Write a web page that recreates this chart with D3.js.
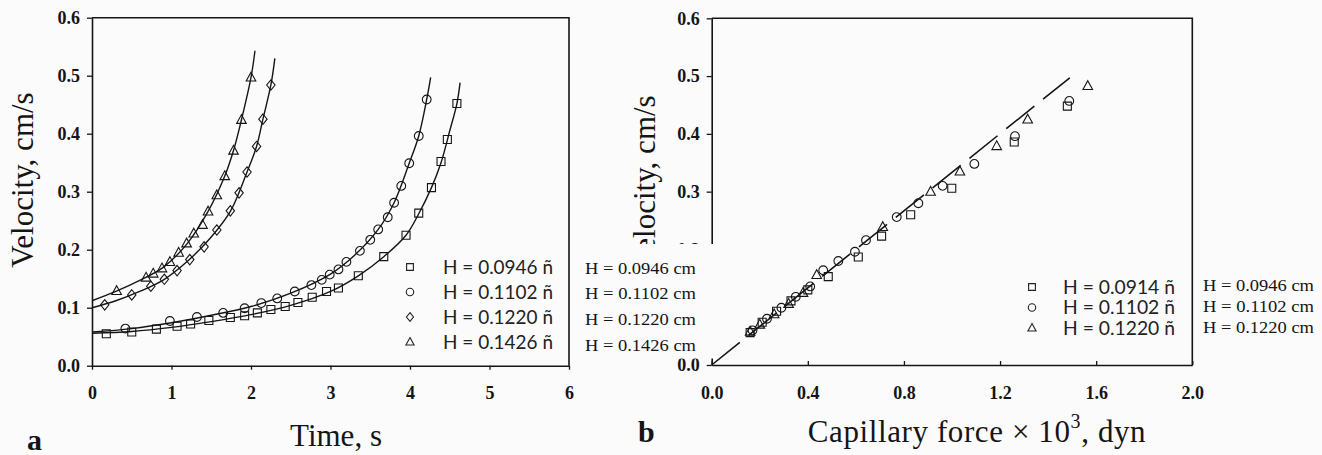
<!DOCTYPE html>
<html>
<head>
<meta charset="utf-8">
<script src="https://cdn.jsdelivr.net/npm/d3@7"></script>
<style>
    body { margin: 0; background: #fbfbfb; }
    svg { display: block; }
</style>
</head>
<body>
<svg id="chart" width="1322" height="455"></svg>
<script>
// ---- panel a : velocity against time ----
const timeTicks = [0, 1, 2, 3, 4, 5, 6];
const velocityTicks = [0, 0.1, 0.2, 0.3, 0.4, 0.5, 0.6];
const legendA = ['H = 0.0946 ñ', 'H = 0.1102 ñ', 'H = 0.1220 ñ', 'H = 0.1426 ñ'];
const legendACm = ['H = 0.0946 cm', 'H = 0.1102 cm', 'H = 0.1220 cm', 'H = 0.1426 cm'];

const pointsA0946 = [[0.18,0.055],[0.50,0.058],[0.81,0.063],[1.07,0.068],[1.24,0.072],[1.47,0.078],
    [1.74,0.083],[1.92,0.086],[2.08,0.091],[2.25,0.097],[2.43,0.102],[2.59,0.109],[2.77,0.118],
    [2.95,0.128],[3.10,0.134],[3.35,0.155],[3.67,0.188],[3.95,0.225],[4.11,0.263],[4.27,0.307],
    [4.39,0.352],[4.47,0.390],[4.59,0.452]];
const pointsA1102 = [[0.42,0.064],[0.98,0.077],[1.32,0.084],[1.65,0.091],[1.92,0.099],[2.13,0.108],
    [2.33,0.116],[2.55,0.128],[2.76,0.139],[2.89,0.148],[2.99,0.157],[3.10,0.166],[3.20,0.179],
    [3.37,0.198],[3.50,0.217],[3.60,0.235],[3.72,0.256],[3.80,0.281],[3.89,0.310],[3.99,0.349],
    [4.11,0.396],[4.21,0.459]];
const pointsA1220 = [[0.16,0.105],[0.50,0.122],[0.74,0.137],[0.91,0.149],[1.07,0.164],[1.23,0.183],
    [1.41,0.205],[1.57,0.234],[1.74,0.267],[1.85,0.298],[1.95,0.334],[2.07,0.378],[2.15,0.425],
    [2.25,0.484]];
const pointsA1426 = [[0.31,0.129],[0.68,0.152],[0.77,0.159],[0.88,0.168],[0.98,0.179],[1.09,0.195],
    [1.19,0.211],[1.28,0.228],[1.39,0.243],[1.46,0.266],[1.57,0.294],[1.67,0.327],[1.78,0.371],
    [1.88,0.424],[2.00,0.497]];

// fitted curves
const fitA0946 = [[0,0.056],[0.5,0.059],[1,0.066],[1.5,0.076],[2,0.088],[2.5,0.104],[3,0.128],
    [3.35,0.155],[3.67,0.188],[3.95,0.225],[4.11,0.262],[4.27,0.307],[4.39,0.350],[4.5,0.405],
    [4.59,0.452],[4.63,0.488]];
const fitA1102 = [[0,0.058],[0.5,0.064],[1,0.074],[1.5,0.087],[2,0.102],[2.5,0.125],[3,0.158],
    [3.3,0.190],[3.6,0.235],[3.8,0.281],[3.99,0.349],[4.11,0.396],[4.21,0.459],[4.26,0.497]];
const fitA1220 = [[0,0.100],[0.3,0.112],[0.6,0.128],[0.9,0.148],[1.2,0.180],[1.5,0.222],[1.74,0.266],
    [1.95,0.334],[2.07,0.378],[2.15,0.425],[2.25,0.484],[2.30,0.530]];
const fitA1426 = [[0,0.112],[0.3,0.128],[0.6,0.147],[0.9,0.170],[1.2,0.211],[1.46,0.266],[1.67,0.327],
    [1.78,0.371],[1.88,0.424],[2.00,0.497],[2.05,0.543]];

// ---- panel b : velocity against capillary force ----
const forceTicks = [0, 0.4, 0.8, 1.2, 1.6, 2.0];
const legendB = ['H = 0.0914 ñ', 'H = 0.1102 ñ', 'H = 0.1220 ñ'];
const legendBCm = ['H = 0.0946 cm', 'H = 0.1102 cm', 'H = 0.1220 cm'];

const pointsB0914 = [[0.16,0.056],[0.21,0.074],[0.27,0.093],[0.33,0.111],[0.40,0.130],[0.485,0.153],
    [0.61,0.187],[0.707,0.223],[0.828,0.260],[0.999,0.306],[1.259,0.386],[1.48,0.448]];
const pointsB1102 = [[0.17,0.060],[0.23,0.080],[0.29,0.099],[0.35,0.118],[0.41,0.136],[0.464,0.164],
    [0.527,0.180],[0.596,0.196],[0.642,0.216],[0.77,0.256],[0.86,0.280],[0.961,0.310],[1.093,0.348],
    [1.262,0.396],[1.488,0.457]];
const pointsB1220 = [[0.16,0.058],[0.20,0.070],[0.26,0.088],[0.32,0.106],[0.38,0.125],[0.437,0.156],
    [0.712,0.239],[0.911,0.300],[1.033,0.335],[1.186,0.379],[1.315,0.425],[1.565,0.483]];
const fitB = [[0, 0], [1.49, 0.497]];
// tick labels hidden under the pasted label block in panel b
const hiddenTicksB = [0.1];

window.Fig = window.Fig || {};

Fig.init = function() {
    Fig.setup.initConst();
    Fig.setup.initObjects();
    Fig.core.draw();
};

Fig.core = {
    draw: function() {
        Fig.core.drawPanelA();
        Fig.core.drawPanelB();
        Fig.core.drawLegends();
    },

    drawPanelA: function() {
        let p = Fig.panelA;
        Fig.helpers.drawFrame(p, d3.format('d'), 'outer', []);
        [fitA0946, fitA1102, fitA1220, fitA1426].forEach(function(f) {
            Fig.svg.append('path')
                .attr('d', p.line(f))
                .attr('fill', 'none')
                .attr('stroke', '#151515')
                .attr('stroke-width', 1.4);
        });
        Fig.helpers.drawPoints(p, pointsA0946, Fig.shapes.square);
        Fig.helpers.drawPoints(p, pointsA1102, Fig.shapes.circle);
        Fig.helpers.drawPoints(p, pointsA1220, Fig.shapes.diamond);
        Fig.helpers.drawPoints(p, pointsA1426, Fig.shapes.triangle);

        Fig.svg.append('text').attr('x', 336).attr('y', 446)
            .attr('text-anchor', 'middle').attr('class', 'title').text('Time, s');
        Fig.helpers.yTitle(33, 180);
        Fig.svg.append('text').attr('x', 27).attr('y', 450).attr('class', 'letter').text('a');
    },

    drawPanelB: function() {
        let p = Fig.panelB;
        Fig.helpers.drawFrame(p, d3.format('.1f'), 'inner', hiddenTicksB);
        Fig.svg.append('path')
            .attr('d', p.line.curve(d3.curveLinear)(fitB))
            .attr('fill', 'none')
            .attr('stroke', '#151515')
            .attr('stroke-width', 1.6)
            .attr('stroke-dasharray', '36,11.2');
        Fig.helpers.drawPoints(p, pointsB0914, Fig.shapes.square);
        Fig.helpers.drawPoints(p, pointsB1102, Fig.shapes.circle);
        Fig.helpers.drawPoints(p, pointsB1220, Fig.shapes.triangle);

        let t = Fig.svg.append('text').attr('x', 977).attr('y', 442)
            .attr('text-anchor', 'middle').attr('class', 'title')
            .attr('font-size', 33).attr('letter-spacing', 0.6);
        t.append('tspan').text('Capillary force \u00d7 10');
        t.append('tspan').attr('font-size', 20).attr('dy', -14).text('3');
        t.append('tspan').attr('dy', 14).text(', dyn');
        Fig.helpers.yTitle(655, 183);
        Fig.svg.append('text').attr('x', 638).attr('y', 442).attr('class', 'letter').text('b');
    },

    drawLegends: function() {
        let symA = [Fig.shapes.square, Fig.shapes.circle, Fig.shapes.diamond, Fig.shapes.triangle];
        let symB = [Fig.shapes.square, Fig.shapes.circle, Fig.shapes.triangle];

        Fig.helpers.drawKey(legendA, symA, 410, 443, [267, 292, 317, 342], 110);
        Fig.helpers.drawKey(legendB, symB, 1032, 1063, [287, 307.5, 328], 112);

        // pasted label block, covers the left edge of panel b
        Fig.svg.append('rect')
            .attr('x', 582).attr('y', 244).attr('width', 134).attr('height', 114.5)
            .attr('fill', '#fbfbfb');
        Fig.helpers.drawCmKey(legendACm, 585, [268, 293, 319, 345]);
        Fig.helpers.drawCmKey(legendBCm, 1203, [285, 306.5, 327.5]);
    }
};

Fig.helpers = {
    drawFrame: function(p, fmt, xTickDir, hidden) {
        let g = Fig.svg.append('g');
        let yAxis = d3.axisLeft(p.y).tickValues(velocityTicks)
            .tickFormat(function(d) { return hidden.indexOf(d) >= 0 ? '' : d3.format('.1f')(d); })
            .tickSizeInner(5).tickSizeOuter(0).tickPadding(7);
        g.append('g').attr('transform', 'translate(' + p.x.range()[0] + ',0)').call(yAxis);

        let xAxis = d3.axisBottom(p.x).tickValues(p.ticks)
            .tickFormat(fmt).tickSizeOuter(0).tickSizeInner(xTickDir === 'outer' ? 4 : -4)
            .tickPadding(xTickDir === 'outer' ? 17 : 21);
        g.append('g').attr('transform', 'translate(0,' + p.y.range()[0] + ')').call(xAxis);

        g.selectAll('.domain').attr('stroke', '#151515').attr('stroke-width', 1.6);
        g.selectAll('.tick line').attr('stroke', '#151515').attr('stroke-width', 1.3);
        g.selectAll('.tick text')
            .attr('font-family', '"Liberation Serif", "Times New Roman", serif')
            .attr('font-weight', 'bold').attr('font-size', 18).attr('fill', '#151515');

        let x0 = p.x.range()[0], x1 = p.x.range()[1];
        let y0 = p.y.range()[0], y1 = p.y.range()[1];
        g.append('path')
            .attr('d', 'M' + x0 + ',' + y1 + 'H' + x1 + 'V' + y0)
            .attr('fill', 'none').attr('stroke', '#151515').attr('stroke-width', 1.6);
    },

    drawPoints: function(p, pts, shape) {
        Fig.svg.append('g').selectAll('path').data(pts).join('path')
            .attr('transform', function(d) { return 'translate(' + p.x(d[0]) + ',' + p.y(d[1]) + ')'; })
            .attr('d', shape)
            .attr('fill', 'none')
            .attr('stroke', '#151515')
            .attr('stroke-width', 1.1);
    },

    drawKey: function(names, shapes, mx, tx, rows, len) {
        let g = Fig.svg.append('g');
        names.forEach(function(n, i) {
            g.append('path')
                .attr('transform', 'translate(' + mx + ',' + rows[i] + ') scale(0.85)')
                .attr('d', shapes[i]).attr('fill', 'none')
                .attr('stroke', '#222').attr('stroke-width', 1.3);
            g.append('text')
                .attr('x', tx).attr('y', rows[i]).attr('dy', '0.36em')
                .attr('font-family', 'Lato, "DejaVu Sans", sans-serif')
                .attr('font-size', 19).attr('fill', '#222')
                .attr('textLength', len).attr('lengthAdjust', 'spacingAndGlyphs')
                .text(n);
        });
    },

    drawCmKey: function(names, x, rows) {
        let g = Fig.svg.append('g');
        names.forEach(function(n, i) {
            g.append('text')
                .attr('x', x).attr('y', rows[i]).attr('dy', '0.35em')
                .attr('font-family', '"Liberation Serif", "Times New Roman", serif')
                .attr('font-size', 17).attr('fill', '#151515')
                .attr('textLength', 111).attr('lengthAdjust', 'spacingAndGlyphs')
                .text(n);
        });
    },

    yTitle: function(x, y) {
        Fig.svg.append('text')
            .attr('transform', 'translate(' + x + ',' + y + ') rotate(-90)')
            .attr('text-anchor', 'middle').attr('class', 'title')
            .attr('font-size', 32)
            .text('Velocity, cm/s');
    }
};

Fig.setup = {
    initConst: function() {
        Fig.width = 1322;
        Fig.height = 455;
        Fig.shapes = {
            square: 'M-4,-4H4V4H-4Z',
            circle: d3.symbol(d3.symbolCircle, 60)(),
            diamond: 'M0,-5.2L4.2,0L0,5.2L-4.2,0Z',
            triangle: 'M0,-5.2L4.8,3.6H-4.8Z'
        };
    },

    initObjects: function() {
        Fig.svg = d3.select('#chart');
        Fig.svg.append('style').text(
            '.title { font-family: "Liberation Serif", "Times New Roman", serif; font-size: 31px; fill: #151515; }' +
            '.letter { font-family: "Liberation Serif", "Times New Roman", serif; font-size: 30px; font-weight: bold; fill: #151515; }');

        Fig.panelA = Fig.setup.createPanel([0, 6], [92, 569], [365.7, 17.7], timeTicks);
        Fig.panelA.line.curve(d3.curveCatmullRom);
        Fig.panelB = Fig.setup.createPanel([0, 2], [711.7, 1192.3], [365, 18.3], forceTicks);
    },

    createPanel: function(xDomain, xRange, yRange, ticks) {
        let panel = {
            x: d3.scaleLinear().domain(xDomain).range(xRange),
            y: d3.scaleLinear().domain([0, 0.6]).range(yRange),
            ticks: ticks
        };
        panel.line = d3.line()
            .x(function(d) { return panel.x(d[0]); })
            .y(function(d) { return panel.y(d[1]); });
        return panel;
    }
};

Fig.init();
</script>
</body>
</html>
